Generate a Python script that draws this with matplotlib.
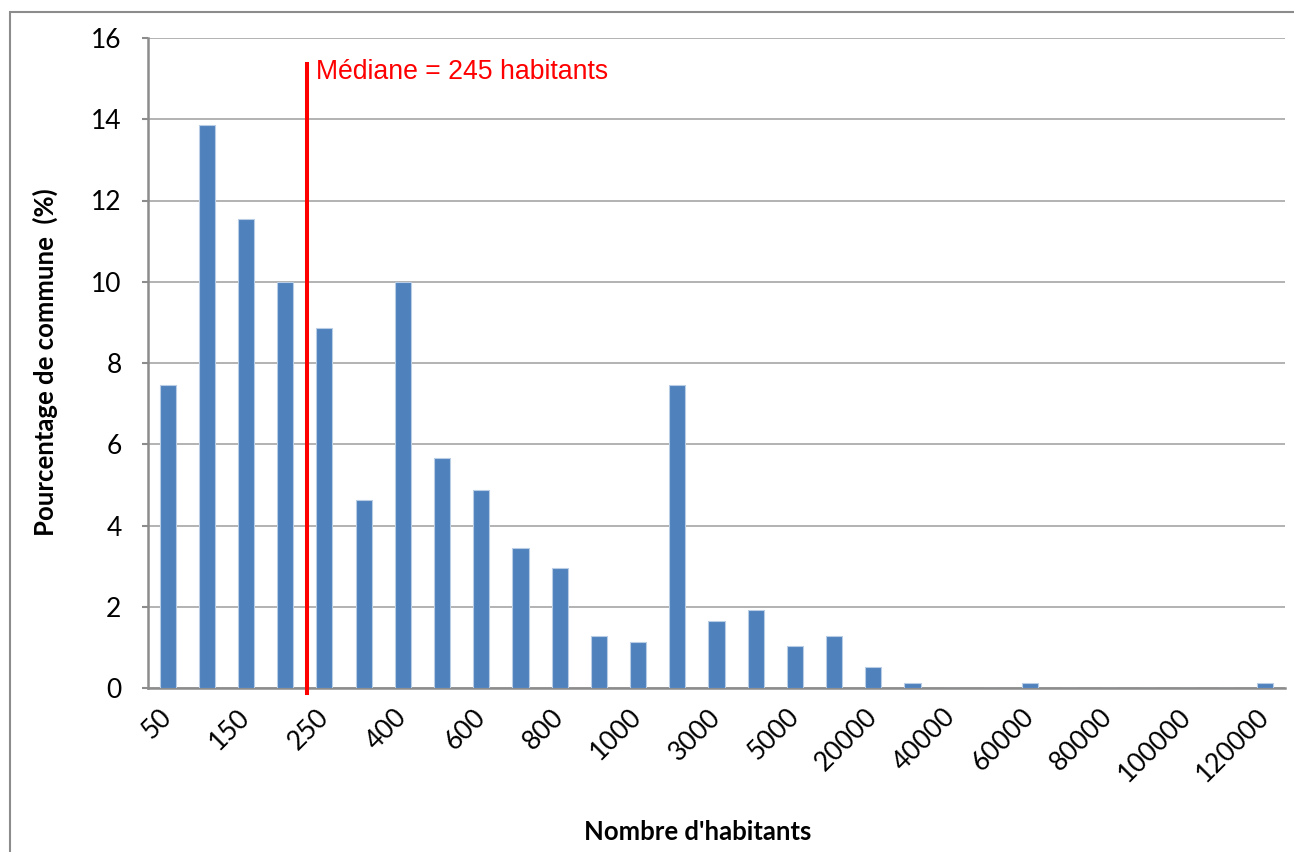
import matplotlib.pyplot as plt
import numpy as np
from matplotlib.patches import Rectangle

# Classes de population (une barre par classe)
classes = ['50', '100', '150', '200', '250', '300', '400', '500', '600', '700',
           '800', '900', '1000', '2000', '3000', '4000', '5000', '10000', '20000',
           '30000', '40000', '50000', '60000', '70000', '80000', '90000',
           '100000', '110000', '120000']
pourcentages = [7.45, 13.87, 11.55, 10.0, 8.85, 4.63, 10.0, 5.65, 4.88, 3.45,
                2.96, 1.27, 1.13, 7.45, 1.65, 1.92, 1.03, 1.27, 0.52,
                0.12, 0, 0, 0.12, 0, 0, 0, 0, 0, 0.12]
mediane_label = 'Médiane = 245 habitants'
mediane_pos = 3.56  # position entre les classes 200 et 250

fig = plt.figure(figsize=(12.94, 8.52), dpi=100)
ax = fig.add_axes([148 / 1294, 1 - 688 / 852, 1137 / 1294, 650 / 852])

# cadre gris autour du graphique
fig.patches.append(Rectangle((10 / 1294, -0.1), 1.2, 1 - 12 / 852 + 0.1,
                             transform=fig.transFigure, fill=False,
                             edgecolor='#8c8c8c', linewidth=1.5))

x = np.arange(len(classes))
ax.bar(x, pourcentages, width=0.41, color='#4F81BD', edgecolor='#B9CDE5',
       linewidth=0.8, zorder=3)

ax.set_xlim(-0.5, len(classes) - 0.5)
ax.set_ylim(0, 16)
ax.set_yticks(np.arange(0, 17, 2))
ax.yaxis.grid(True, color='#a6a6a6', linewidth=1.2, zorder=0)
ax.tick_params(axis='y', labelsize=19, length=4, width=1.5, color='#8c8c8c', pad=15)
for lab in ax.get_yticklabels():
    lab.set_fontfamily('Lato')

ax.set_xticks(x[::2])
ax.set_xticklabels(classes[::2], rotation=45, ha='right', va='center',
                   rotation_mode='anchor', fontsize=19, fontfamily='Lato')
ax.tick_params(axis='x', length=0, pad=18)

for side in ['top', 'right']:
    ax.spines[side].set_visible(False)
for side in ['left', 'bottom']:
    ax.spines[side].set_color('#8c8c8c')
    ax.spines[side].set_linewidth(1.8)

# ligne de la médiane
ax.plot([mediane_pos, mediane_pos], [-0.12, 15.35], color='red', linewidth=2.9,
        clip_on=False, zorder=5)
ax.text(mediane_pos + 0.23, 14.98, mediane_label, color='red', fontsize=19.2,
        fontfamily='Liberation Sans', va='baseline', ha='left')

fig.text(698 / 1294, 1 - 832 / 852, "Nombre d'habitants", fontsize=18.5,
         fontweight='bold', fontfamily='Lato', ha='center', va='center')
fig.text(45 / 1294, 1 - 362 / 852, 'Pourcentage de commune  (%)', fontsize=18.5,
         fontweight='bold', fontfamily='Lato', ha='center', va='center',
         rotation=90)

plt.savefig('out.png', dpi=100)
